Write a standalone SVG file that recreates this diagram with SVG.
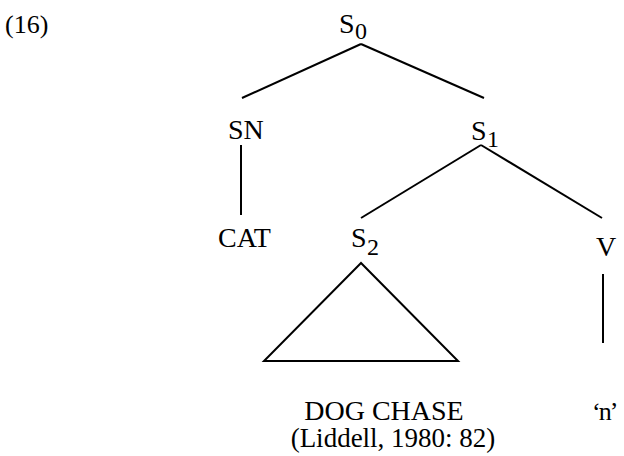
<svg xmlns="http://www.w3.org/2000/svg" width="624" height="456" viewBox="0 0 624 456">
<style>
text{font-family:"Liberation Serif","Times New Roman",serif;fill:#000;font-size:28px}
.sub{font-size:24px}
.e{stroke:#000;stroke-width:2;fill:none;stroke-linecap:butt}
</style>
<rect width="624" height="456" fill="#fff"/>
<text x="5" y="33" style="font-size:26px">(16)</text>
<g id="connectors">
<line class="e" x1="361" y1="44" x2="242" y2="98"/>
<line class="e" x1="361" y1="44" x2="484" y2="98"/>
<line class="e" x1="241" y1="145" x2="241" y2="215"/>
<line class="e" x1="481" y1="145" x2="361" y2="218"/>
<line class="e" x1="481" y1="145" x2="602" y2="218"/>
<line class="e" x1="603" y1="274" x2="603" y2="343"/>
<polygon class="e" points="361,263 264,361 458,361"/>
</g>
<g id="S0"><text x="339" y="33">S</text><text class="sub" x="355" y="39">0</text></g>
<g id="SN"><text x="228" y="139">SN</text></g>
<g id="S1"><text x="471" y="140">S</text><text class="sub" x="487" y="147">1</text></g>
<g id="CAT"><text x="218" y="247">CAT</text></g>
<g id="S2"><text x="351" y="247">S</text><text class="sub" x="367" y="255">2</text></g>
<g id="V"><text x="596" y="256">V</text></g>
<g id="DOGCHASE"><text x="384" y="420" text-anchor="middle">DOG CHASE</text><text x="393" y="447" text-anchor="middle" style="font-size:27px">(Liddell, 1980: 82)</text></g>
<g id="n"><text x="592" y="420" style="font-size:26px" letter-spacing="-2">‘n’</text></g>
</svg>
